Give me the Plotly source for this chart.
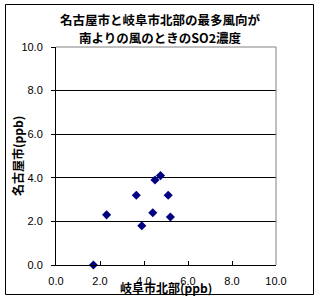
import plotly.graph_objects as go

gifu_north = [1.7, 2.3, 3.65, 3.9, 4.4, 4.5, 4.75, 5.1, 5.2]
nagoya = [0.0, 2.3, 3.2, 1.8, 2.4, 3.9, 4.1, 3.2, 2.2]
tick_vals = [0, 2, 4, 6, 8, 10]
tick_text = ["0.0", "2.0", "4.0", "6.0", "8.0", "10.0"]

title_lines = ["名古屋市と岐阜市北部の最多風向が", "南よりの風のときのSO2濃度"]
x_title = "岐阜市北部(ppb)"
y_title = "名古屋市(ppb)"

CJK = "Noto Sans CJK JP"
TICKF = dict(family="Liberation Sans, Arial", size=11, color="black")

fig = go.Figure()
fig.add_trace(go.Scatter(
    x=gifu_north, y=nagoya, mode="markers",
    marker=dict(symbol="diamond", size=7, color="#000080"),
    cliponaxis=False, showlegend=False))

L, R, T, B = 56, 44, 47, 41
W, H = 320, 306
pw, ph = W - L - R, H - T - B

def px(x):
    return (x - L) / pw

def py(y):
    return (H - B - y) / ph

fig.update_layout(
    width=W, height=H,
    margin=dict(l=L, r=R, t=T, b=B),
    paper_bgcolor="white", plot_bgcolor="white",
    xaxis=dict(range=[0, 10], tickvals=tick_vals, ticktext=tick_text,
               showgrid=False, zeroline=False, showline=True, linecolor="black",
               linewidth=1, ticks="inside", ticklen=4, tickcolor="black",
               tickfont=TICKF, ticklabelstandoff=6, mirror=False),
    yaxis=dict(range=[0, 10], tickvals=tick_vals, ticktext=tick_text,
               showgrid=True, gridcolor="black", gridwidth=1, zeroline=False,
               showline=True, linecolor="black", linewidth=1,
               ticks="outside", ticklen=4, tickcolor="black",
               tickfont=TICKF, ticklabelstandoff=6),
    shapes=[
        dict(type="rect", xref="paper", yref="paper",
             x0=px(5.5), x1=px(313.5), y0=py(294.5), y1=py(4.5),
             line=dict(color="black", width=1), layer="below"),
        dict(type="line", xref="paper", yref="paper", x0=0, x1=1, y0=1, y1=1,
             line=dict(color="#808080", width=1)),
        dict(type="line", xref="paper", yref="paper", x0=1, x1=1, y0=0, y1=1,
             line=dict(color="#808080", width=1)),
    ],
    annotations=[
        dict(text=title_lines[0], xref="paper", yref="paper", x=px(160), y=py(20),
             showarrow=False, font=dict(family=CJK, size=12.5, color="black", weight="bold"),
             xanchor="center", yanchor="middle"),
        dict(text=title_lines[1], xref="paper", yref="paper", x=px(160), y=py(37),
             showarrow=False, font=dict(family=CJK, size=12.5, color="black", weight="bold"),
             xanchor="center", yanchor="middle"),
        dict(text=x_title, xref="paper", yref="paper", x=px(166), y=py(287),
             showarrow=False, font=dict(family=CJK, size=12, color="black", weight="bold"),
             xanchor="center", yanchor="middle"),
        dict(text=y_title, xref="paper", yref="paper", x=px(17), y=py(156),
             showarrow=False, textangle=-90,
             font=dict(family=CJK, size=12, color="black", weight="bold"),
             xanchor="center", yanchor="middle"),
    ],
)

fig.write_html("out.html")
